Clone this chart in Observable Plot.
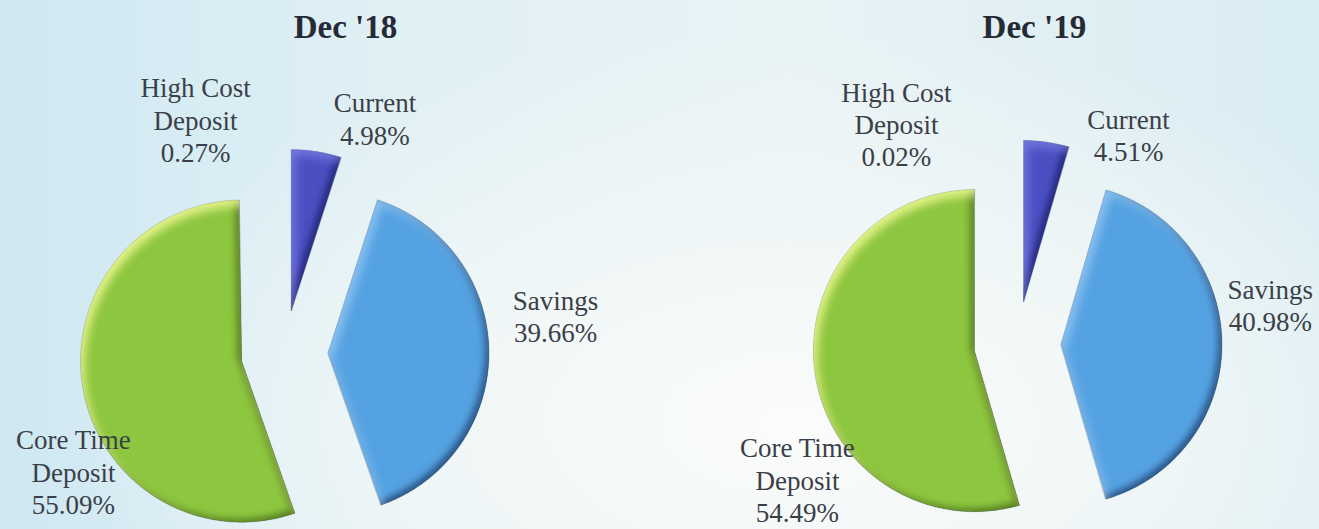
<!DOCTYPE html>
<html>
<head>
<meta charset="utf-8">
<script src="https://cdn.jsdelivr.net/npm/d3@7"></script>
<script src="https://cdn.jsdelivr.net/npm/@observablehq/plot@0.6"></script>
<style>
  html, body { margin: 0; padding: 0; }
  body {
    width: 1319px; height: 529px; overflow: hidden;
    background:
      radial-gradient(ellipse 55% 75% at 60% 80%, #fbfcfb 0%, #f1f7f7 45%, rgba(241,247,247,0) 100%),
      linear-gradient(90deg, #cfe8f2 0%, #e0f0f5 30%, #e8f3f5 60%, #d9ecf3 100%);
  }
  #chart svg { display: block; }
</style>
</head>
<body>
<div id="chart"></div>
<script>
// ---------------- data ----------------
const periods = ["Dec '18", "Dec '19"];
const categories = ["Current", "Savings", "Core Time Deposit", "High Cost Deposit"];
const categoryLabels = ["Current", "Savings", "Core Time\nDeposit", "High Cost\nDeposit"];
const dec18Values = [4.98, 39.66, 55.09, 0.27];
const dec19Values = [4.51, 40.98, 54.49, 0.02];
const sliceColors = ["#4b4fc2", "#55a2e2", "#8dc63f", "#e6f0f3"];

// ---------------- layout (units = pie radius) ----------------
const W = 1319, H = 529;
const xDomain = [-1.764, 6.429];
const yDomain = [-1.121, 2.165];
const explode = 0.27;
const pieLayout = {
  "Dec '18": {cx: 0, cy: -0.028, title: [0.379, 2.0],
    labels: {"Current": [21.0, 1.567], "Savings": [82.1, 1.70], "Core Time Deposit": [240.8, 1.502], "High Cost Deposit": [-20.8, 1.555]}},
  "Dec '19": {cx: 4.553, cy: 0.028, title: [4.658, 2.0],
    labels: {"Current": [27.9, 1.475], "Savings": [81.0, 1.59], "Core Time Deposit": [238.5, 1.603], "High Cost Deposit": [-28.7, 1.565]}}
};
const valuesByPeriod = {"Dec '18": dec18Values, "Dec '19": dec19Values};

// ---------------- build slice outlines from the values ----------------
const slicePoints = [];
const labelRows = [];
const titleRows = [];
for (const period of periods) {
  const L = pieLayout[period];
  const arcs = d3.pie().sort(null).value(d => d)(valuesByPeriod[period]);
  arcs.forEach((a, i) => {
    const mid = (a.startAngle + a.endAngle) / 2;
    const ax = L.cx + explode * Math.sin(mid);
    const ay = L.cy + explode * Math.cos(mid);
    const key = period + "|" + categories[i];
    slicePoints.push({key, category: categories[i], x: ax, y: ay});
    const n = Math.max(2, Math.ceil((a.endAngle - a.startAngle) / (Math.PI / 360)));
    for (let k = 0; k <= n; k++) {
      const t = a.startAngle + (a.endAngle - a.startAngle) * k / n;
      slicePoints.push({key, category: categories[i], x: ax + Math.sin(t), y: ay + Math.cos(t)});
    }
    const [deg, dist] = L.labels[categories[i]];
    const th = deg * Math.PI / 180;
    labelRows.push({
      x: L.cx + dist * Math.sin(th),
      y: L.cy + dist * Math.cos(th),
      text: categoryLabels[i] + "\n" + valuesByPeriod[period][i].toFixed(2) + "%"
    });
  });
  titleRows.push({x: L.title[0], y: L.title[1], text: period});
}

const serif = "'Liberation Serif', 'Times New Roman', 'DejaVu Serif', serif";
const tiny = d => d.category === "High Cost Deposit";

const chart = Plot.plot({
  width: W,
  height: H,
  margin: 0,
  x: {domain: xDomain, axis: null},
  y: {domain: yDomain, axis: null},
  color: {domain: categories, range: sliceColors},
  style: {background: "transparent", overflow: "visible"},
  marks: [
    Plot.line(slicePoints, {
      filter: d => !tiny(d),
      x: "x", y: "y", z: "key", fill: "category",
      curve: "linear-closed",
      stroke: "#1b2b44", strokeOpacity: 0.35, strokeWidth: 0.8
    }),
    Plot.line(slicePoints, {
      filter: tiny,
      x: "x", y: "y", z: "key", fill: "category",
      curve: "linear-closed", fillOpacity: 0.5
    }),
    Plot.text(labelRows, {
      x: "x", y: "y", text: "text",
      fontFamily: serif, fontSize: 27, lineHeight: 1.2, fill: "#3b4048"
    }),
    Plot.text(titleRows, {
      x: "x", y: "y", text: "text",
      fontFamily: serif, fontSize: 33, fontWeight: "bold", fill: "#252a34"
    })
  ]
});

// bevel-like 3D shading
function bevelFilter(id, lightColor, lightOpacity, darkColor) {
  return `
<filter id="${id}" x="-10%" y="-10%" width="120%" height="120%" color-interpolation-filters="sRGB">
  <feGaussianBlur in="SourceAlpha" stdDeviation="3.5" result="blur"/>
  <feOffset in="blur" dx="-4" dy="-3" result="offDark"/>
  <feComposite in="SourceAlpha" in2="offDark" operator="arithmetic" k1="0" k2="1" k3="-1" k4="0" result="darkMask"/>
  <feFlood flood-color="${darkColor}" flood-opacity="0.65" result="darkColor"/>
  <feComposite in="darkColor" in2="darkMask" operator="in" result="dark"/>
  <feGaussianBlur in="SourceAlpha" stdDeviation="5" result="blur2"/>
  <feOffset in="blur2" dx="4" dy="6" result="offLight"/>
  <feComposite in="SourceAlpha" in2="offLight" operator="arithmetic" k1="0" k2="1" k3="-1" k4="0" result="lightMask"/>
  <feFlood flood-color="${lightColor}" flood-opacity="${lightOpacity}" result="lightColor"/>
  <feComposite in="lightColor" in2="lightMask" operator="in" result="light"/>
  <feMerge><feMergeNode in="SourceGraphic"/><feMergeNode in="dark"/><feMergeNode in="light"/></feMerge>
</filter>`;
}
const svg = d3.select(chart);
const defs = svg.insert("defs", ":first-child");
defs.html(
  bevelFilter("bevel-green", "#fbff9c", 0.8, "#2c4a08") +
  bevelFilter("bevel-blue", "#b8dcff", 0.55, "#0f2850") +
  bevelFilter("bevel-purple", "#9ea2ff", 0.5, "#0d0f50")
);
const filterFor = {[sliceColors[0]]: "bevel-purple", [sliceColors[1]]: "bevel-blue", [sliceColors[2]]: "bevel-green"};
svg.selectAll('g[aria-label="line"] path').each(function () {
  const f = filterFor[d3.select(this).attr("fill")];
  if (f) d3.select(this).attr("filter", `url(#${f})`);
});

document.getElementById("chart").appendChild(chart);
</script>
</body>
</html>
